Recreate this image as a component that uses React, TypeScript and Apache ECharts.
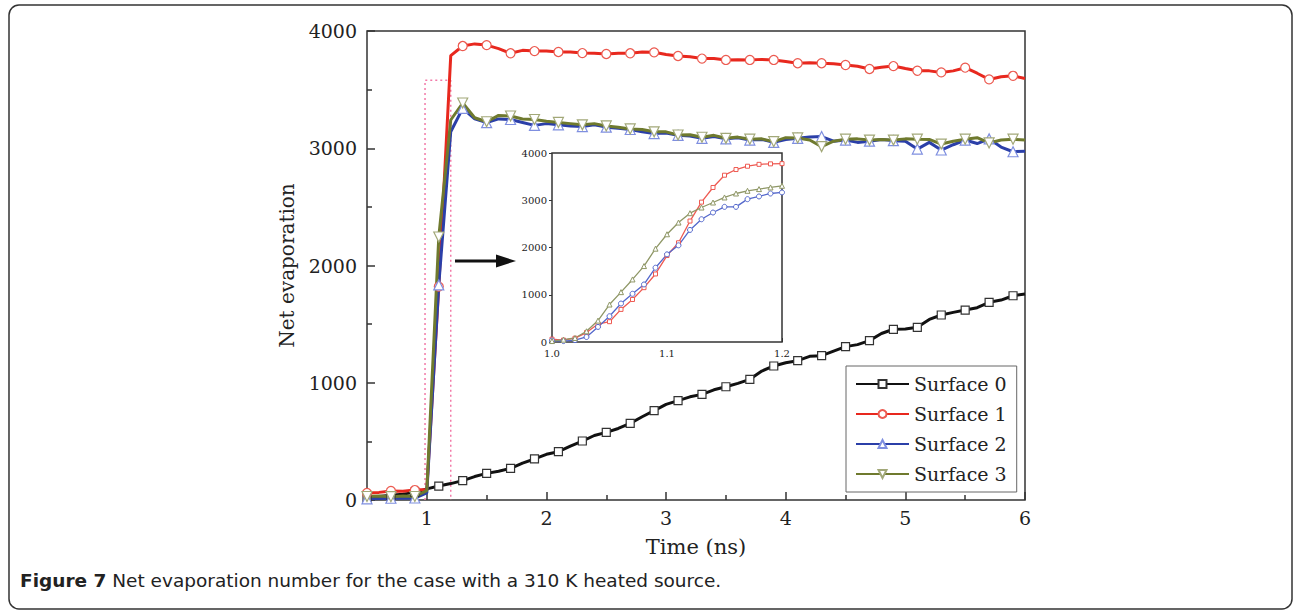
import React, { useEffect, useRef } from "react";
import * as echarts from "echarts";

const times = [0.5, 0.6, 0.7, 0.8, 0.9, 1.0, 1.1, 1.2, 1.3, 1.4, 1.5, 1.6, 1.7, 1.8, 1.9, 2.0, 2.1, 2.2, 2.3, 2.4, 2.5, 2.6, 2.7, 2.8, 2.9, 3.0, 3.1, 3.2, 3.3, 3.4, 3.5, 3.6, 3.7, 3.8, 3.9, 4.0, 4.1, 4.2, 4.3, 4.4, 4.5, 4.6, 4.7, 4.8, 4.9, 5.0, 5.1, 5.2, 5.3, 5.4, 5.5, 5.6, 5.7, 5.8, 5.9, 6.0];

const surface0 = [20, 30, 40, 50, 65, 95, 119, 140, 165, 200, 227, 245, 270, 315, 350, 390, 412, 460, 503, 550, 577, 610, 654, 710, 762, 815, 847, 880, 901, 940, 966, 995, 1029, 1100, 1143, 1170, 1188, 1225, 1231, 1270, 1308, 1325, 1359, 1420, 1456, 1458, 1473, 1540, 1578, 1600, 1620, 1640, 1686, 1705, 1742, 1757];
const surface1 = [60, 65, 77, 75, 85, 90, 1820, 3790, 3872, 3890, 3880, 3850, 3810, 3835, 3829, 3830, 3821, 3820, 3812, 3810, 3804, 3810, 3810, 3820, 3818, 3800, 3787, 3780, 3765, 3765, 3753, 3755, 3753, 3758, 3753, 3740, 3725, 3730, 3725, 3720, 3710, 3700, 3676, 3690, 3701, 3680, 3661, 3660, 3647, 3660, 3687, 3640, 3587, 3610, 3618, 3595];
const surface2 = [10, 12, 15, 15, 17, 60, 1834, 3141, 3340, 3250, 3218, 3250, 3245, 3220, 3195, 3210, 3200, 3190, 3185, 3200, 3180, 3170, 3160, 3140, 3125, 3130, 3110, 3105, 3085, 3100, 3080, 3090, 3070, 3075, 3050, 3075, 3085, 3095, 3100, 3060, 3070, 3050, 3060, 3075, 3065, 3060, 2993, 3050, 2985, 3030, 3070, 3040, 3080, 3010, 2970, 2975];
const surface3 = [30, 35, 28, 35, 30, 80, 2243, 3241, 3386, 3260, 3226, 3280, 3275, 3250, 3245, 3230, 3220, 3210, 3200, 3210, 3190, 3180, 3165, 3160, 3140, 3140, 3113, 3115, 3094, 3110, 3085, 3095, 3077, 3080, 3056, 3090, 3088, 3070, 3014, 3060, 3077, 3080, 3070, 3075, 3070, 3080, 3077, 3075, 3036, 3060, 3077, 3090, 3045, 3070, 3077, 3070];

const insetTimes = [1.0, 1.01, 1.02, 1.03, 1.04, 1.05, 1.06, 1.07, 1.08, 1.09, 1.1, 1.11, 1.12, 1.13, 1.14, 1.15, 1.16, 1.17, 1.18, 1.19, 1.2];
const inset1 = [60, 40, 80, 200, 380, 430, 690, 900, 1150, 1440, 1830, 2100, 2560, 2960, 3270, 3530, 3650, 3720, 3760, 3770, 3775];
const inset2 = [30, 20, 40, 106, 319, 545, 814, 1020, 1218, 1572, 1855, 2046, 2372, 2598, 2740, 2860, 2860, 3023, 3080, 3143, 3165];
const inset3 = [20, 50, 85, 227, 453, 793, 1055, 1324, 1607, 1975, 2280, 2528, 2726, 2846, 2952, 3059, 3143, 3200, 3236, 3271, 3306];

const zoomBox = [[0.985, 0], [0.985, 3580], [1.2, 3580], [1.2, 0]];

const mainTicks = [1, 2, 3, 4, 5, 6];
const mainMinorTicks = [1.5, 2.5, 3.5, 4.5, 5.5];

const FONT = "DejaVu Serif";
const AX = "#333";

function mainData(vals: number[]) {
  return times.map((t, i) =>
    i % 2 === 0 ? [t, vals[i]] : { value: [t, vals[i]], symbol: "none" }
  );
}
function insetData(vals: number[]) {
  return insetTimes.map((t, i) => [t, vals[i]]);
}

export default function App() {
  const ref = useRef<HTMLDivElement>(null);
  useEffect(() => {
    if (!ref.current) return;
    const chart = echarts.init(ref.current, null, { renderer: "svg" });

    const mainSeries = (name: string, vals: number[], line: string, mark: string, symbol: string, size: number, rotate = 0) => ({
      name,
      type: "line",
      xAxisIndex: 0,
      yAxisIndex: 0,
      data: mainData(vals),
      symbol,
      symbolSize: size,
      symbolRotate: rotate,
      showAllSymbol: true,
      lineStyle: { color: line, width: 3 },
      itemStyle: { color: "#fff", borderColor: mark, borderWidth: 1.2 },
      emphasis: { disabled: true },
      z: 3,
    });
    const insetSeries = (name: string, vals: number[], line: string, symbol: string, size: number) => ({
      name,
      type: "line",
      xAxisIndex: 2,
      yAxisIndex: 1,
      data: insetData(vals),
      symbol,
      symbolSize: size,
      lineStyle: { color: line, width: 1.3 },
      itemStyle: { color: "#fff", borderColor: line, borderWidth: 1 },
      emphasis: { disabled: true },
      z: 5,
    });

    const plain = (v: number) => String(v);

    const option: any = {
      animation: false,
      backgroundColor: "#fff",
      grid: [
        { left: 367, top: 31, width: 658, height: 469, show: true, borderColor: AX, borderWidth: 1.5, backgroundColor: "transparent" },
        { left: 552, top: 153, width: 230, height: 189, show: true, borderColor: AX, borderWidth: 1.5, backgroundColor: "#fff", z: 4 },
      ],
      xAxis: [
        {
          gridIndex: 0, type: "value", min: 0.5, max: 6, position: "bottom",
          axisLine: { show: false }, splitLine: { show: false },
          axisTick: { inside: true, length: 8, customValues: mainTicks, lineStyle: { color: AX, width: 1.5 } },
          axisLabel: { customValues: mainTicks, fontFamily: FONT, fontSize: 19, color: "#222", margin: 8, formatter: plain },
          name: "Time (ns)", nameLocation: "middle", nameGap: 36,
          nameTextStyle: { fontFamily: FONT, fontSize: 21, color: "#222" },
        },
        {
          gridIndex: 0, type: "value", min: 0.5, max: 6, position: "bottom",
          axisLine: { show: false }, splitLine: { show: false }, axisLabel: { show: false },
          axisTick: { inside: true, length: 5, customValues: mainMinorTicks, lineStyle: { color: AX, width: 1.5 } },
        },
        {
          gridIndex: 1, type: "value", min: 1.0, max: 1.2, interval: 0.1, position: "bottom",
          axisLine: { show: false }, splitLine: { show: false },
          axisTick: { inside: true, length: 4, lineStyle: { color: AX, width: 1 } },
          minorTick: { show: true, splitNumber: 2, length: 3, lineStyle: { color: AX, width: 1 } },
          axisLabel: { fontFamily: FONT, fontSize: 10, color: "#222", margin: 6, formatter: (v: number) => v.toFixed(1) },
        },
      ],
      yAxis: [
        {
          gridIndex: 0, type: "value", min: 0, max: 4000, interval: 1000,
          axisLine: { show: false }, splitLine: { show: false },
          axisTick: { inside: true, length: 8, lineStyle: { color: AX, width: 1.5 } },
          minorTick: { show: true, splitNumber: 2, length: 5, lineStyle: { color: AX, width: 1.5 } },
          axisLabel: { fontFamily: FONT, fontSize: 19, color: "#222", margin: 10, formatter: plain },
          name: "Net evaporation", nameLocation: "middle", nameGap: 70,
          nameTextStyle: { fontFamily: FONT, fontSize: 20, color: "#222" },
        },
        {
          gridIndex: 1, type: "value", min: 0, max: 4000, interval: 1000,
          axisLine: { show: false }, splitLine: { show: false },
          axisTick: { inside: false, length: 3, lineStyle: { color: AX, width: 1 } },
          axisLabel: { fontFamily: FONT, fontSize: 10, color: "#222", margin: 5, formatter: plain },
        },
      ],
      legend: {
        data: ["Surface 0", "Surface 1", "Surface 2", "Surface 3"],
        orient: "vertical", left: 846, top: 366,
        itemWidth: 53, itemHeight: 10, itemGap: 8,
        padding: [7, 10, 7, 9],
        backgroundColor: "#fff", borderColor: "#666", borderWidth: 1,
        selectedMode: false,
        textStyle: { fontFamily: FONT, fontSize: 19, color: "#222", lineHeight: 22 },
        z: 10,
      },
      series: [
        {
          name: "zoom region", type: "line", xAxisIndex: 0, yAxisIndex: 0,
          data: zoomBox, symbol: "none", silent: true,
          lineStyle: { color: "#f27aa8", width: 1.5, type: [2, 3] }, z: 1,
        },
        mainSeries("Surface 0", surface0, "#111111", "#333333", "rect", 8),
        mainSeries("Surface 1", surface1, "#e8281e", "#ec5a50", "circle", 9),
        mainSeries("Surface 2", surface2, "#2b3fa8", "#7f8fe0", "triangle", 10),
        mainSeries("Surface 3", surface3, "#6f7a2e", "#a2a878", "triangle", 10, 180),
        insetSeries("Inset 1", inset1, "#ee5a52", "rect", 4),
        insetSeries("Inset 2", inset2, "#5468cc", "circle", 5),
        insetSeries("Inset 3", inset3, "#8f9766", "triangle", 5),
      ],
      graphic: [
        {
          type: "rect", shape: { x: 9, y: 5, width: 1283, height: 604, r: 10 },
          style: { fill: "none", stroke: "#333", lineWidth: 1.5 }, silent: true, z: 0,
        },
        {
          type: "line", shape: { x1: 455, y1: 261, x2: 500, y2: 261 },
          style: { stroke: "#111", lineWidth: 3 }, silent: true,
        },
        {
          type: "polygon", shape: { points: [[496, 254.5], [516, 261], [496, 267.5]] },
          style: { fill: "#111" }, silent: true,
        },
        {
          type: "text", x: 20, y: 580,
          style: {
            text: "{b|Figure 7} Net evaporation number for the case with a 310 K heated source.",
            fontFamily: "DejaVu Sans", fontSize: 18.5, fill: "#222", verticalAlign: "middle",
            rich: { b: { fontFamily: "DejaVu Sans", fontSize: 18.5, fontWeight: "bold", fill: "#222" } },
          },
          silent: true,
        },
      ],
    };
    chart.setOption(option);
    return () => chart.dispose();
  }, []);
  return (
    <div
      ref={ref}
      style={{ position: "absolute", left: 0, top: 0, width: 1295, height: 614 }}
    />
  );
}
